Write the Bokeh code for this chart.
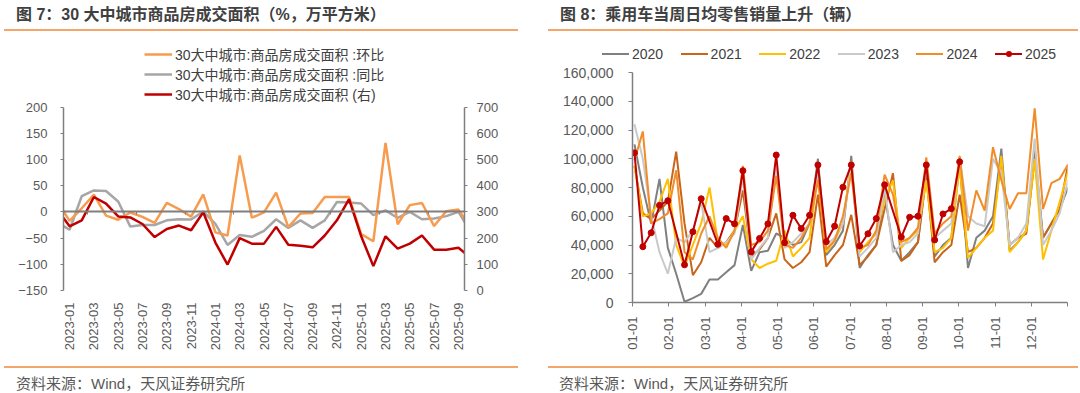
import math
from bokeh.plotting import figure
from bokeh.models import (Range1d, LinearAxis, FixedTicker, NumeralTickFormatter,
                          Legend, LegendItem, Div)
from bokeh.layouts import row, column
from bokeh.embed import file_html
from bokeh.resources import INLINE

# ---------------- data: left chart (30 大中城市商品房成交面积) ----------------
MONTHS = ["2022-12",
          "2023-01", "2023-02", "2023-03", "2023-04", "2023-05", "2023-06",
          "2023-07", "2023-08", "2023-09", "2023-10", "2023-11", "2023-12",
          "2024-01", "2024-02", "2024-03", "2024-04", "2024-05", "2024-06",
          "2024-07", "2024-08", "2024-09", "2024-10", "2024-11", "2024-12",
          "2025-01", "2025-02", "2025-03", "2025-04", "2025-05", "2025-06",
          "2025-07", "2025-08", "2025-09", "2025-10"]
HUANBI = [20, -17, 7, 33, -7, -15, -1, -9.5, -21, 17.5, 5.5, -9, 33.5, -39, -45,
          108, -11, -1, 37, -29, -3, -2, 28.5, 28.5, 28.5, -42.5, -56, 132, -23.5,
          13, 17, -27, 1.5, 4.5, -30]
TONGBI = [-20, -34, 30, 41, 40, 20, -28, -25, -25, -16, -14, -14.5, 1, -23, -63,
          -44, -47.5, -36, -14, -30.5, -16, -30.5, -16, 19, 18, 16, -6, 3, -11.5,
          0, -14, -12.5, -8, 0, -38]
AREA = [309, 245, 268, 357, 332, 283, 279, 254, 204, 235, 248, 230, 299, 183, 99,
        200, 179, 179, 243, 175, 171, 165, 210, 268, 349, 207, 93, 207, 160, 179,
        210, 156, 156, 163, 125]
LEFT_NAMES = ["30大中城市:商品房成交面积 :环比",
              "30大中城市:商品房成交面积 :同比",
              "30大中城市:商品房成交面积 (右)"]
LEFT_Y_TICKS = [-150, -100, -50, 0, 50, 100, 150, 200]
RIGHT_Y_TICKS = [0, 100, 200, 300, 400, 500, 600, 700]

# ---------------- data: right chart (乘用车当周日均零售销量) ----------------
MONTH_LABELS = ["01-01", "02-01", "03-01", "04-01", "05-01", "06-01",
                "07-01", "08-01", "09-01", "10-01", "11-01", "12-01"]
Y2020 = [110, 80, 55, 86, 38, 20, 0.5, 3, 6, 16, 16, 21, 26, 54, 22, 35, 36, 48,
         45, 40, 42, 55, 100, 33, 40, 50, 102, 24, 33, 40, 75, 40, 29, 35, 42, 90,
         32, 40, 45, 97, 24, 45, 50, 60, 107, 36, 42, 50, 107, 45, 55, 65, 80]
Y2021 = [95, 62, 58, 64, 70, 105, 55, 19, 28, 45, 38, 42, 50, 78, 32, 37, 45, 62,
         30, 24, 28, 35, 75, 25, 33, 40, 61, 26, 32, 40, 65, 90, 29, 33, 42, 88,
         28, 35, 40, 75, 35, 38, 45, 55, 100, 40, 45, 48, 100, 45, 55, 65, 96]
Y2022 = [95, 60, 62, 70, 86, 40, 25, 40, 55, 80, 42, 40, 50, 60, 30, 24, 27, 29,
         50, 32, 38, 45, 90, 35, 43, 55, 98, 35, 42, 48, 72, 85, 38, 45, 50, 85,
         35, 38, 45, 95, 31, 38, 45, 50, 102, 35, 42, 50, 100, 30, 50, 70, 91]
Y2023 = [124, 100, 60, 35, 20, 45, 42, 50, 70, 35, 38, 42, 48, 88, 30, 38, 45, 95,
         38, 42, 48, 55, 92, 40, 45, 55, 95, 32, 38, 45, 80, 35, 40, 42, 48, 97,
         45, 50, 55, 101, 60, 55, 53, 100, 90, 40, 45, 55, 114, 40, 50, 62, 85]
Y2024 = [99, 119, 55, 58, 62, 92, 35, 30, 48, 60, 45, 38, 50, 95, 40, 42, 50, 88,
         40, 38, 45, 55, 85, 37, 43, 60, 90, 38, 40, 50, 89, 75, 42, 45, 52, 101,
         48, 55, 60, 102, 50, 78, 64, 108, 85, 65, 76, 76, 135, 65, 83, 86, 96]
WEEKS_2025 = [0, 1, 2, 3, 4, 6, 7, 8, 10, 11, 12, 13, 14, 15, 16, 17, 18, 19, 20,
              21, 22, 23, 24, 25, 26, 27, 28, 29, 30, 32, 33, 34, 35, 36, 37, 38, 39]
Y2025 = [104.1, 38.8, 48.5, 67.6, 70.8, 26.2, 49.2, 72.2, 40.5, 58.4, 54.7, 91.7,
         35.2, 44.6, 54.7, 102.6, 41.6, 60.7, 51.5, 60.7, 95.7, 42.3, 53.1, 80.2,
         95.7, 39.3, 47.8, 58.4, 81.9, 45.5, 59.3, 60.0, 95.7, 43.5, 61.6, 65.3, 97.9]
UNIT = 1000  # values above are in thousands of vehicles
YEARS = ["2020", "2021", "2022", "2023", "2024", "2025"]
CAR_Y_TICKS = [0, 20000, 40000, 60000, 80000, 100000, 120000, 140000, 160000]

TITLE_L = "图 7：30 大中城市商品房成交面积（%，万平方米）"
TITLE_R = "图 8：乘用车当周日均零售销量上升（辆）"
SOURCE = "资料来源：Wind，天风证券研究所"

# ---------------- styling ----------------
LAT = "Liberation Sans"
MIX = "Liberation Sans, Noto Sans CJK SC"
AX_COL = "#7F7F7F"
TXT_COL = "#595959"
RULE_COL = "#F4A66A"
COL_HB, COL_TB, COL_AREA = "#F79B4E", "#A6A6A6", "#C00000"
YEAR_COLS = ["#808080", "#C8651B", "#FFC000", "#C9C9C9", "#F28C28", "#C00000"]


def style_axis(ax, size="13px"):
    ax.axis_line_color = AX_COL
    ax.axis_line_width = 1.5
    ax.major_tick_line_color = AX_COL
    ax.major_tick_line_width = 1
    ax.minor_tick_line_color = None
    ax.major_tick_in = 0
    ax.major_label_text_font = LAT
    ax.major_label_text_font_size = size
    ax.major_label_text_color = TXT_COL


def blank(fig):
    fig.outline_line_color = None
    fig.background_fill_color = "white"
    fig.border_fill_color = "white"


# ================= left figure =================
FIG_H = 326
L_PX_PER_UNIT = 183.3 / 350.0
L_FRAME_H = FIG_H - 6 - 72
L_TOP = -150 + L_FRAME_H / L_PX_PER_UNIT
R_TOP = (L_TOP + 150) * 2

p1 = figure(width=540, height=FIG_H, x_range=Range1d(-0.5, 32.5),
            y_range=Range1d(-150, L_TOP), x_axis_type=None, y_axis_type=None,
            output_backend="svg", toolbar_location=None,
            min_border_left=63, min_border_right=76, min_border_top=6,
            min_border_bottom=72)
p1.extra_y_ranges = {"r": Range1d(0, R_TOP)}
blank(p1)

off = MONTHS.index("2023-01")
KX = [i - off for i in range(len(MONTHS))]

yl = LinearAxis(ticker=FixedTicker(ticks=LEFT_Y_TICKS, minor_ticks=[]),
                bounds=(-150, 200))
style_axis(yl)
yl.major_tick_out = 3
yl.major_label_standoff = 13
p1.add_layout(yl, "left")

yr = LinearAxis(y_range_name="r", ticker=FixedTicker(ticks=RIGHT_Y_TICKS, minor_ticks=[]),
                bounds=(0, 700))
style_axis(yr)
yr.major_tick_out = 3
yr.major_label_standoff = 9
p1.add_layout(yr, "right")

lab_ticks = list(range(0, 33, 2))
xb = LinearAxis(ticker=FixedTicker(ticks=lab_ticks, minor_ticks=[]),
                major_label_overrides={k: MONTHS[k + off] for k in lab_ticks})
style_axis(xb)
xb.axis_line_color = None
xb.major_tick_line_color = None
xb.major_tick_out = 0
xb.major_label_standoff = 12
xb.major_label_orientation = math.pi / 2
p1.add_layout(xb, "below")

zero_ticks = [1.5, 5.5, 9.5, 13.5, 17.5, 21.5, 25.5, 29.5]
xz = LinearAxis(fixed_location=0, ticker=FixedTicker(ticks=zero_ticks, minor_ticks=[]),
                major_label_overrides={t: "" for t in zero_ticks})
style_axis(xz)
xz.axis_line_width = 2
xz.major_tick_out = 3
p1.add_layout(xz, "below")

r_tb = p1.line(KX, TONGBI, color=COL_TB, line_width=2.5)
r_hb = p1.line(KX, HUANBI, color=COL_HB, line_width=2.5)
r_ar = p1.line(KX, AREA, y_range_name="r", color=COL_AREA, line_width=2.5)

leg1 = Legend(items=[LegendItem(label=LEFT_NAMES[0], renderers=[r_hb]),
                     LegendItem(label=LEFT_NAMES[1], renderers=[r_tb]),
                     LegendItem(label=LEFT_NAMES[2], renderers=[r_ar])],
              location=(81, 186), orientation="vertical", glyph_width=28,
              glyph_height=20, label_height=20, label_standoff=3, spacing=0,
              padding=0, margin=0, border_line_color=None,
              background_fill_alpha=0, label_text_font=MIX,
              label_text_font_size="14px", label_text_color="#404040")
p1.add_layout(leg1)

# ================= right: legend strip (HTML key) =================
LEG_H = 28
KEY_X0, KEY_PITCH, KEY_W, KEY_GAP, KEY_CY = 62, 78.6, 27, 3, 17.5
parts = ['<div style="position:relative;width:540px;height:%dpx;">' % LEG_H]
for j, (name, col) in enumerate(zip(YEARS, YEAR_COLS)):
    kx = KEY_X0 + KEY_PITCH * j
    parts.append(f'<div style="position:absolute;left:{kx:.1f}px;top:{KEY_CY - 1:.1f}px;'
                 f'width:{KEY_W}px;height:2px;background:{col};"></div>')
    if name == "2025":
        parts.append(f'<div style="position:absolute;left:{kx + KEY_W / 2 - 3:.1f}px;'
                     f'top:{KEY_CY - 3:.1f}px;width:6px;height:6px;border-radius:3px;'
                     f'background:{col};"></div>')
    parts.append(f'<div style="position:absolute;left:{kx + KEY_W + KEY_GAP:.1f}px;'
                 f'top:{KEY_CY - 8:.1f}px;font-family:\'Liberation Sans\';font-size:14px;'
                 f'line-height:16px;color:#404040;white-space:nowrap;">{name}</div>')
parts.append('</div>')
legend_strip = Div(text="".join(parts), width=540, height=LEG_H, margin=0)

# ================= right figure =================
P2_H = FIG_H - LEG_H
TOP_BORDER = 2
R2_FRAME_H = P2_H - TOP_BORDER - 60
R2_TOP = R2_FRAME_H * 160000 / 230.0
X0, W = 0.055, 0.2300

p2 = figure(width=540, height=P2_H, x_range=Range1d(0, 12),
            y_range=Range1d(0, R2_TOP), x_axis_type=None, y_axis_type=None,
            output_backend="svg", toolbar_location=None,
            min_border_left=92, min_border_right=13, min_border_top=TOP_BORDER,
            min_border_bottom=60)
blank(p2)

ya = LinearAxis(ticker=FixedTicker(ticks=CAR_Y_TICKS, minor_ticks=[]),
                formatter=NumeralTickFormatter(format="0,0"), bounds=(0, 160000))
style_axis(ya, "14px")
ya.major_tick_out = 4
ya.major_label_standoff = 15
p2.add_layout(ya, "left")

xa = LinearAxis(ticker=FixedTicker(ticks=list(range(13)), minor_ticks=[]),
                major_label_overrides={m: (MONTH_LABELS[m] if m < 12 else "")
                                       for m in range(13)})
style_axis(xa)
xa.major_tick_out = 4
xa.major_label_standoff = 10
xa.major_label_orientation = math.pi / 2
p2.add_layout(xa, "below")

for ys, col in zip([Y2020, Y2021, Y2022, Y2023, Y2024], YEAR_COLS[:5]):
    xs = [X0 + W * i for i in range(len(ys))]
    p2.line(xs, [v * UNIT for v in ys], color=col, line_width=2)
x25 = [X0 + W * i for i in WEEKS_2025]
y25 = [v * UNIT for v in Y2025]
p2.line(x25, y25, color=YEAR_COLS[5], line_width=2)
p2.scatter(x25, y25, size=6, color=YEAR_COLS[5])


# ================= headers / footers =================
def head(title, title_left, rule_left, rule_w):
    html = (f'<div style="position:relative;width:540px;height:36px;">'
            f'<div style="position:absolute;left:{title_left}px;top:7px;'
            f"font-family:'Liberation Sans','Noto Sans CJK SC';font-weight:700;"
            f'font-size:16px;line-height:16px;color:#404040;white-space:nowrap;">{title}</div>'
            f'<div style="position:absolute;left:{rule_left}px;top:29px;width:{rule_w}px;'
            f'height:2px;background:{RULE_COL};"></div></div>')
    return Div(text=html, width=540, height=36, margin=0)


def foot(text_left, rule_left, rule_w):
    html = (f'<div style="position:relative;width:540px;height:31px;">'
            f'<div style="position:absolute;left:{rule_left}px;top:4px;width:{rule_w}px;'
            f'height:2px;background:{RULE_COL};"></div>'
            f'<div style="position:absolute;left:{text_left}px;top:14px;'
            f"font-family:'Liberation Sans','Noto Sans CJK SC';font-size:15px;"
            f'line-height:15px;color:{TXT_COL};white-space:nowrap;">{SOURCE}</div></div>')
    return Div(text=html, width=540, height=31, margin=0)


left_col = column(head(TITLE_L, 16, 4, 514), p1, foot(16, 4, 514), spacing=0)
right_col = column(head(TITLE_R, 20, 8, 530), legend_strip, p2, foot(19, 8, 530), spacing=0)
layout = row(left_col, right_col, spacing=0, margin=0)

open("out.html", "w").write(file_html(layout, INLINE))
